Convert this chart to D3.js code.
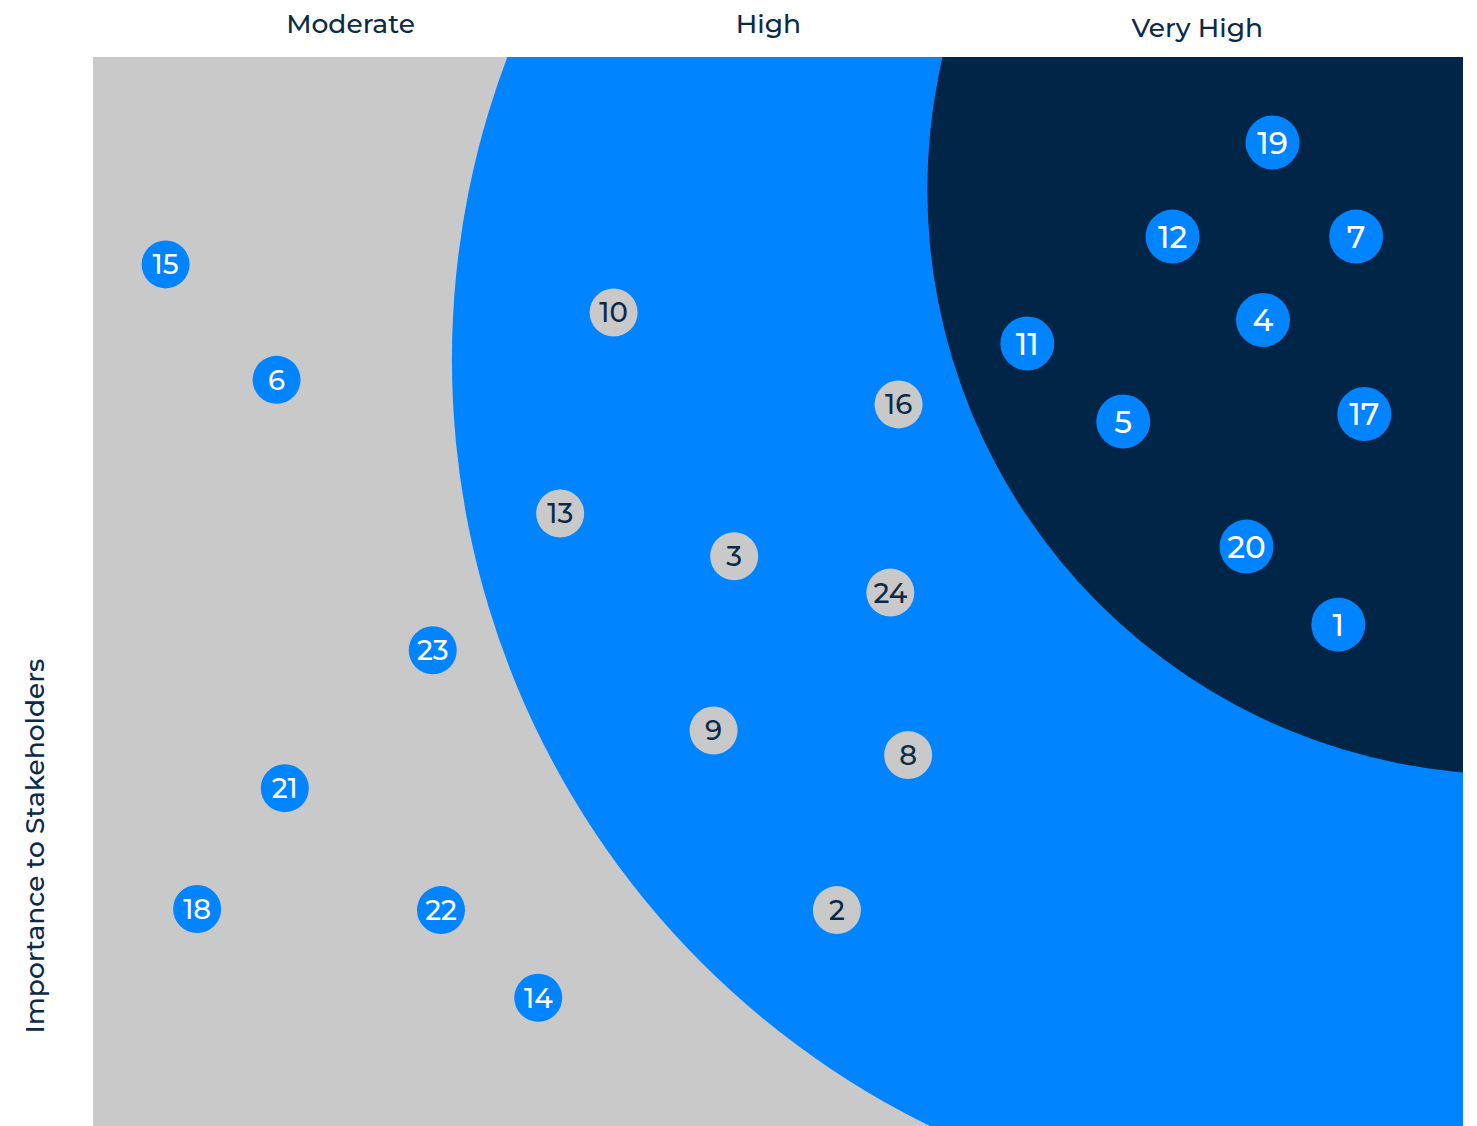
<!DOCTYPE html>
<html>
<head>
<meta charset="utf-8">
<script src="https://cdn.jsdelivr.net/npm/d3@7"></script>
<style>
  html, body { margin: 0; padding: 0; background: #fff; }
  svg { display: block; font-family: "Montserrat", "Inter", "Open Sans", sans-serif; font-weight: 500; }
</style>
</head>
<body>
<div id="chart"></div>
<script>
// Materiality matrix: three priority zones + numbered topics
const W = 1477, H = 1126;
const M = { left: 93, right: 14, top: 57, bottom: 0 };

// ---------- Data ----------
const tiers = ["Moderate", "High", "Very High"];
const tierLabelX = [18.8, 49.3, 80.6];      // header positions (x units)
const tierLabelDy = [0, 0, 4];

const ids   = [15, 6, 10, 16, 11, 19, 12, 7, 4, 5, 17, 20, 1, 13, 3, 24, 23, 9, 8, 21, 18, 22, 2, 14];
const xVals = [5.3, 13.4, 38.0, 58.8, 68.2, 86.1, 78.8, 92.2, 85.4, 75.2, 92.8, 84.2, 90.9, 34.1, 46.8, 58.2, 24.8, 45.3, 59.5, 14.0, 7.6, 25.4, 54.3, 32.5];
const yVals = [80.6, 69.8, 76.1, 67.5, 73.2, 92.0, 83.2, 83.2, 75.4, 65.9, 66.6, 54.2, 46.9, 57.3, 53.3, 49.9, 44.5, 37.0, 34.7, 31.6, 20.3, 20.2, 20.2, 12.0];
const tierOf = ["Moderate", "Moderate", "High", "High", "Very High", "Very High", "Very High", "Very High", "Very High", "Very High", "Very High", "Very High", "Very High",
                "High", "High", "High", "Moderate", "High", "High", "Moderate", "Moderate", "Moderate", "High", "Moderate"];

// zone circles (centre in x/y units, radius in x units)
const zoneTier = ["High", "Very High"];
const zoneCx = [88.5, 103.6];
const zoneCy = [71.7, 87.6];
const zoneR  = [62.3, 42.7];

const points = ids.map((id, i) => ({ id, x: xVals[i], y: yVals[i], tier: tierOf[i] }));
const zones = zoneTier.map((t, i) => ({ tier: t, cx: zoneCx[i], cy: zoneCy[i], r: zoneR[i] }));

// ---------- Colours ----------
const GREY = "#c9c9c9", BLUE = "#0084ff", NAVY = "#002546", INK = "#0b2a48";
const zoneFill = { "High": BLUE, "Very High": NAVY };
const dotFill = { "Moderate": BLUE, "High": GREY, "Very High": BLUE };
const dotText = { "Moderate": "#fff", "High": INK, "Very High": "#fff" };
const dotR = { "Moderate": 24, "High": 24, "Very High": 27 };

// ---------- Scales ----------
const x = d3.scaleLinear().domain([0, 100]).range([M.left, W - M.right]);
const y = d3.scaleLinear().domain([0, 100]).range([H - M.bottom, M.top]);

const svg = d3.select("#chart").append("svg").attr("width", W).attr("height", H);

svg.append("clipPath").attr("id", "plot")
  .append("rect")
  .attr("x", x(0)).attr("y", y(100))
  .attr("width", x(100) - x(0)).attr("height", y(0) - y(100));

const plot = svg.append("g").attr("clip-path", "url(#plot)");

plot.append("rect")
  .attr("x", x(0)).attr("y", y(100))
  .attr("width", x(100) - x(0)).attr("height", y(0) - y(100))
  .attr("fill", GREY);

plot.selectAll("circle.zone").data(zones).join("circle")
  .attr("class", "zone")
  .attr("cx", d => x(d.cx))
  .attr("cy", d => y(d.cy))
  .attr("r", d => x(d.r) - x(0))
  .attr("fill", d => zoneFill[d.tier]);

// ---------- Points ----------
const dots = plot.selectAll("g.dot").data(points).join("g")
  .attr("class", "dot")
  .attr("transform", d => `translate(${x(d.x)},${y(d.y)})`);

dots.append("circle")
  .attr("r", d => dotR[d.tier])
  .attr("fill", d => dotFill[d.tier]);

dots.append("text")
  .attr("text-anchor", "middle")
  .attr("dy", "0.36em")
  .attr("font-size", d => dotR[d.tier] * 1.15)
  .attr("fill", d => dotText[d.tier])
  .text(d => d.id);

// ---------- Headers & axis title ----------
svg.selectAll("text.tier").data(tiers).join("text")
  .attr("class", "tier")
  .attr("x", (d, i) => x(tierLabelX[i]))
  .attr("y", (d, i) => 33 + tierLabelDy[i])
  .attr("text-anchor", "middle")
  .attr("font-size", 26.5)
  .attr("fill", INK)
  .text(d => d);

svg.append("text")
  .attr("transform", `translate(44, 846) rotate(-90)`)
  .attr("text-anchor", "middle")
  .attr("font-size", 26.5)
  .attr("fill", INK)
  .text("Importance to Stakeholders");
</script>
</body>
</html>
